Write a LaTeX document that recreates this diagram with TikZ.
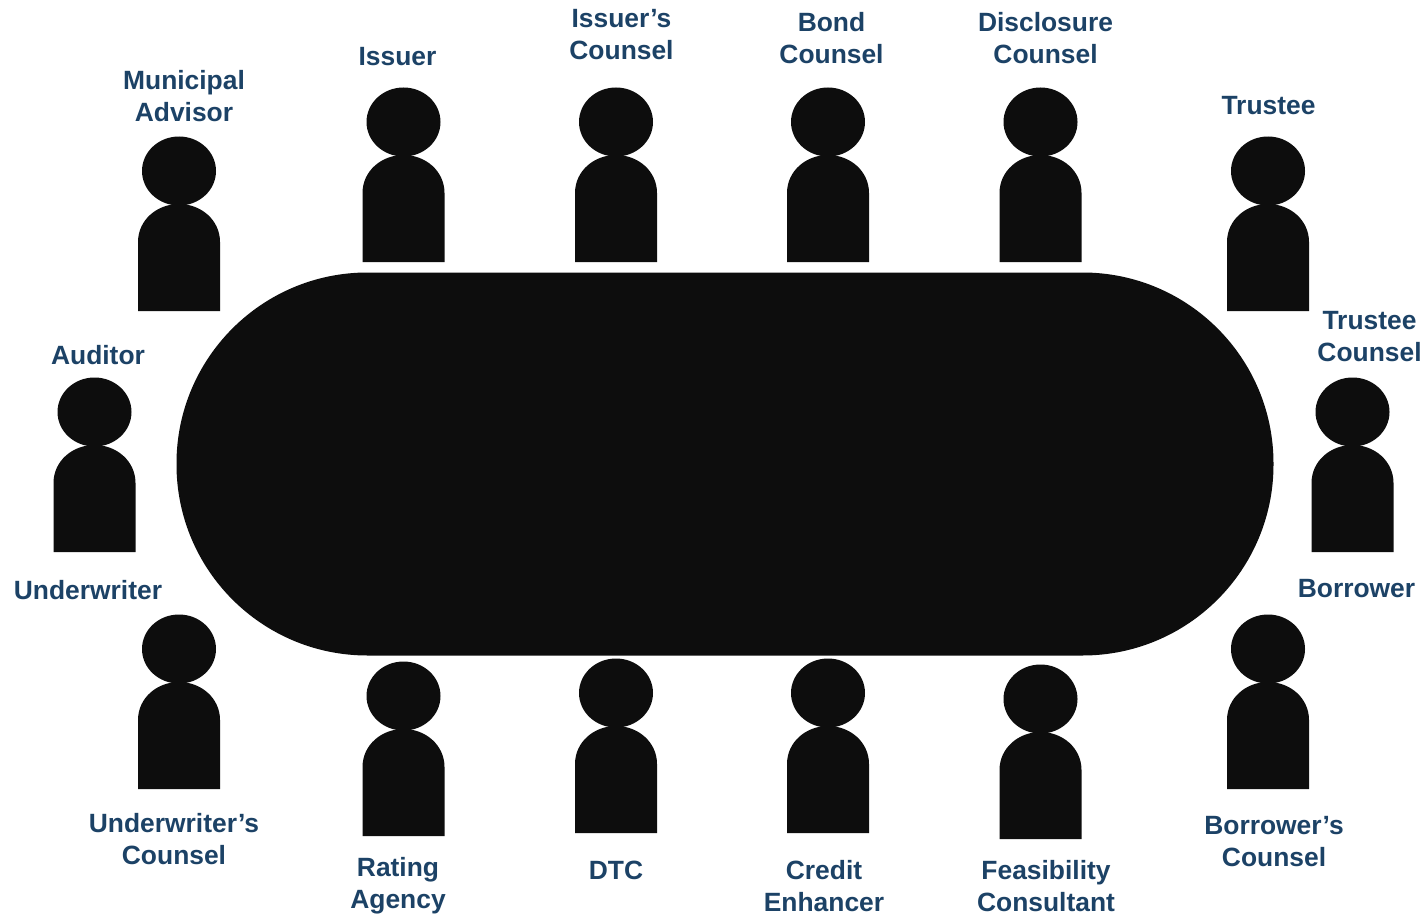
\documentclass[tikz,border=0pt]{standalone}
\usepackage{fontspec}
\setmainfont{Liberation Sans}
\definecolor{lab}{HTML}{1C4266}
\definecolor{blk}{HTML}{0D0D0D}
\tikzset{
  lbl/.style={text=lab,font=\fontsize{26.4}{32}\selectfont\bfseries,align=center,inner sep=0pt},
  pers/.pic={
    \fill[blk] (0,34) circle[x radius=37,y radius=34.5];
    \fill[blk] (-41,174) -- (-41,105) .. controls (-41,83) and (-22,67) .. (0,67) .. controls (22,67) and (41,83) .. (41,105) -- (41,174) -- cycle;
  }
}
\begin{document}
\begin{tikzpicture}[x=1pt,y=-1pt]
\useasboundingbox (0,0) rectangle (1426,915);
\fill[white] (0,0) rectangle (1426,915);
\node[fill=blk,rounded corners=191pt,minimum width=1097pt,minimum height=383pt,inner sep=0pt] (table) at (725,464) {};
\pic at (179,137) {pers};
\pic at (403.5,88) {pers};
\pic at (616,88) {pers};
\pic at (828,88) {pers};
\pic at (1040.5,88) {pers};
\pic at (1268,137) {pers};
\pic at (94.5,378) {pers};
\pic at (1352.5,378) {pers};
\pic at (179,615) {pers};
\pic at (1268,615) {pers};
\pic at (403.5,662) {pers};
\pic at (616,659) {pers};
\pic at (828,659) {pers};
\pic at (1040.5,665) {pers};
\node[lbl] (a1) at (184,96) {Municipal\\Advisor};
\node[lbl] (a2) at (397.5,57) {Issuer};
\node[lbl] (a3) at (621.5,35) {Issuer’s\\Counsel};
\node[lbl] (a4) at (831.5,38) {Bond\\Counsel};
\node[lbl] (a5) at (1045.5,38) {Disclosure\\Counsel};
\node[lbl] (a6) at (1268.5,106) {Trustee};
\node[lbl] (a7) at (1369.5,337) {Trustee\\Counsel};
\node[lbl] (a8) at (98,355) {Auditor};
\node[lbl] (a9) at (88,590) {Underwriter};
\node[lbl] (a10) at (1356.5,589) {Borrower};
\node[lbl] (a11) at (174,839) {Underwriter’s\\Counsel};
\node[lbl] (a12) at (1274,842) {Borrower’s\\Counsel};
\node[lbl] (a13) at (398,886) {Rating\\Agency};
\node[lbl] (a14) at (616,870) {DTC};
\node[lbl] (a15) at (824,886) {Credit\\Enhancer};
\node[lbl] (a16) at (1046,886) {Feasibility\\Consultant};
\end{tikzpicture}
\end{document}
